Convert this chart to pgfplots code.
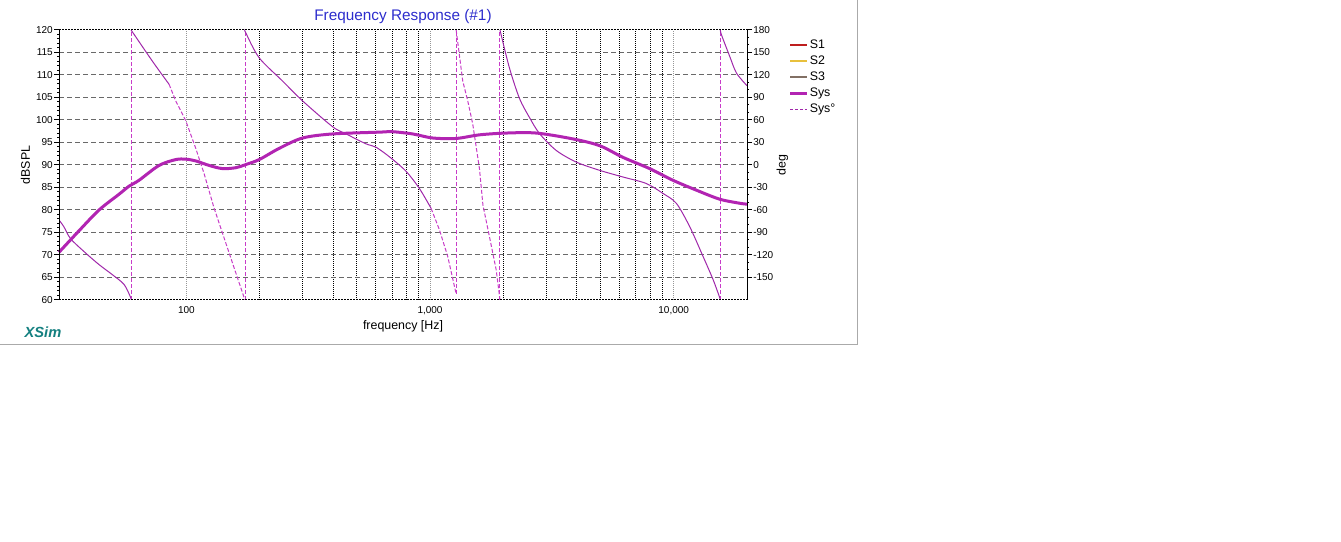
\documentclass[border=0pt]{standalone}
\usepackage{fontspec}
\setmainfont{Liberation Sans}
\usepackage{pgfplots}
\pgfplotsset{compat=1.18}

\definecolor{sysmag}{RGB}{178,36,178}
\definecolor{sysph}{RGB}{160,40,170}
\definecolor{syswrap}{RGB}{200,60,200}
\definecolor{sone}{RGB}{190,30,30}
\definecolor{stwo}{RGB}{232,192,60}
\definecolor{sthree}{RGB}{130,112,100}
\definecolor{titleblue}{RGB}{45,45,205}
\definecolor{xsimteal}{RGB}{20,128,128}
\definecolor{gridgray}{RGB}{105,105,105}
\definecolor{decgray}{RGB}{150,150,150}
\definecolor{framegray}{RGB}{170,170,170}

\begin{document}
\begin{tikzpicture}
\fill[white] (0,0) rectangle (1005.75pt,406.5pt);
\useasboundingbox (0,0) rectangle (1005.75pt,406.5pt);
\draw[framegray, line width=0.75pt] (0,147.75pt) -- (643.1pt,147.75pt) -- (643.1pt,406.5pt);

% grid and x labels
\begin{axis}[
  scale only axis, width=516pt, height=202.5pt,
  at={(44.25pt,181.5pt)}, anchor=south west,
  xmode=log, xmin=30, xmax=20000,
  ymin=60, ymax=120, ytick={65,70,...,115}, yticklabels={},
  axis line style={draw=none},
  major tick length=0pt, minor tick length=0pt,
  xtick={100,1000,10000}, xticklabels={100,{1,000},{10,000}},
  minor xtick={200,300,400,500,600,700,800,900,2000,3000,4000,5000,6000,7000,8000,9000},
  xmajorgrids, xminorgrids, ymajorgrids,
  major x grid style={decgray, line width=0.75pt, dash pattern=on 0.75pt off 0.75pt},
  minor x grid style={black, line width=0.75pt, dash pattern=on 0.75pt off 0.75pt},
  major y grid style={gridgray, line width=0.75pt, dash pattern=on 3.75pt off 2.25pt},
  tick label style={font=\fontsize{7.5}{9}\selectfont},
  xticklabel style={anchor=north, inner sep=0pt, yshift=-4.5pt},
  xlabel={frequency [Hz]},
  xlabel style={font=\fontsize{9.3}{11}\selectfont, at={(axis description cs:0.5,0)}, anchor=center, yshift=-19.5pt},
  /pgf/number format/assume math mode=true,
]
\end{axis}

% phase (right axis)
\begin{axis}[
  scale only axis, width=516pt, height=202.5pt,
  at={(44.25pt,181.5pt)}, anchor=south west,
  xmode=log, xmin=30, xmax=20000,
  ymin=-180, ymax=180, ytick={-150,-120,...,180}, minor y tick num=2,
  axis line style={draw=none},
  tick align=outside, major tick length=3.75pt, minor tick length=1.5pt,
  tick style={black, line width=0.75pt},
  ytick pos=right, yticklabel pos=right,
  xtick=\empty,
  tick label style={font=\fontsize{7.5}{9}\selectfont},
  yticklabel style={anchor=west, inner sep=0.75pt},
  ylabel={deg},
  ylabel style={font=\fontsize{9.3}{11}\selectfont, at={(axis description cs:1.0516,0.5)}, anchor=center},
  /pgf/number format/assume math mode=true,
]
% segment A
\addplot[sysph, line width=0.75pt, smooth] coordinates {(30,-73.3) (31.4,-82.2) (33.5,-98.4) (38.6,-117.4) (43.8,-132.8) (49.6,-146.1) (55.5,-159.3) (59.1,-176.9) (59.3,-180)};
\addplot[syswrap, line width=0.75pt, dash pattern=on 3pt off 1.5pt] coordinates {(59.3,-180) (59.3,180)};
% segment B
\addplot[sysph, line width=0.75pt, smooth] coordinates {(59.3,180) (72.5,138.5) (84.9,107.6)};
\addplot[syswrap, line width=0.75pt, dash pattern=on 3pt off 1.5pt] coordinates {(84.9,107.6) (90.4,85.5) (99.4,59.1) (109.3,22) (118.2,-11.5) (130,-57.8) (149.8,-117.4) (172.6,-176.9) (174,-180)};
\addplot[syswrap, line width=0.75pt, dash pattern=on 3pt off 1.5pt] coordinates {(174,-180) (174,180)};
% segment C
\addplot[sysph, line width=0.75pt, smooth] coordinates {(174,180) (175.4,176) (199,142.9) (248,112) (299.8,85.5) (398,51.1) (451.9,41.5) (546,28.2) (600.3,23.7) (690,9.5) (797.2,-8.4) (904.3,-31.3) (1010,-57.8)};
\addplot[syswrap, line width=0.75pt, dash pattern=on 3pt off 1.5pt] coordinates {(1010,-57.8) (1093,-86.5) (1182,-121.9) (1259,-161.6) (1280,-172)};
\addplot[syswrap, line width=0.75pt, dash pattern=on 3pt off 1.5pt] coordinates {(1280,-172) (1280,180)};
% segment D
\addplot[syswrap, line width=0.75pt, dash pattern=on 3pt off 1.5pt] coordinates {(1280,180) (1362,112) (1428,85.5) (1497,54.7) (1595,-4.6) (1649,-53.6) (1753,-95.4) (1868,-139.5) (1918,-168.6) (1937,-180)};
\addplot[syswrap, line width=0.75pt, dash pattern=on 3pt off 1.5pt] coordinates {(1937,-180) (1937,180)};
% segment E
\addplot[sysph, line width=0.75pt, smooth] coordinates {(1937,180) (2117,129.6) (2328,88.9) (2559,63.4) (2814,41.9) (3296,19.4) (3983,3.9) (4965,-7.1) (6191,-16) (7722,-24.7) (9036,-37.9) (10260,-51.2) (11634,-82.2) (13199,-121.9) (14508,-152.7) (15453,-176.9) (15560,-180)};
\addplot[syswrap, line width=0.75pt, dash pattern=on 3pt off 1.5pt] coordinates {(15560,-180) (15560,180)};
% segment F
\addplot[sysph, line width=0.75pt, smooth] coordinates {(15560,180) (15700,173.8) (16990,144.7) (18100,122.6) (20000,105.7)};
\end{axis}

% magnitude (left axis)
\begin{axis}[
  scale only axis, width=516pt, height=202.5pt,
  at={(44.25pt,181.5pt)}, anchor=south west,
  xmode=log, xmin=30, xmax=20000,
  ymin=60, ymax=120, ytick={60,65,...,120}, minor y tick num=4,
  axis line style={draw=none},
  tick align=outside, major tick length=3.75pt, minor tick length=1.5pt,
  tick style={black, line width=0.75pt},
  ytick pos=left, xtick=\empty,
  tick label style={font=\fontsize{7.5}{9}\selectfont},
  yticklabel style={anchor=east, inner sep=0.75pt},
  ylabel={dBSPL},
  ylabel style={font=\fontsize{9.3}{11}\selectfont, at={(axis description cs:-0.0487,0.5)}, anchor=center},
  title={Frequency Response (\#1)},
  title style={font=\fontsize{11.5}{13.5}\selectfont, text=titleblue, at={(axis description cs:0.5,1)}, anchor=center, yshift=3.75pt},
  clip=false,
  legend style={at={(axis description cs:1.0606,0.968)}, anchor=north west, draw=none, fill=none,
    inner sep=0pt, row sep=2.3pt, font=\fontsize{9.3}{11}\selectfont,
    nodes={inner sep=0.6pt, text height=6.7pt, text depth=1.8pt}},
  legend cell align=left,
  legend image code/.code={\draw[#1] (0pt,0pt) -- (12.75pt,0pt);},
  /pgf/number format/assume math mode=true,
]
\addlegendimage{sone, line width=1.5pt}\addlegendentry{S1}
\addlegendimage{stwo, line width=1.5pt}\addlegendentry{S2}
\addlegendimage{sthree, line width=1.5pt}\addlegendentry{S3}
\addplot[sysmag, line width=2.25pt, smooth] coordinates {
(30,70.6) (36.2,75.35) (43.8,80.0) (52.9,83.5) (58.2,85.3) (63.9,86.6) (77.2,89.9) (90.4,91.2) (99.4,91.3) (109.3,90.9) (124,89.9) (140.6,89.2) (159.6,89.4) (175.4,90.1) (199,91.2) (240.4,93.7) (299.8,96.0) (398,96.9) (619,97.3) (700,97.4) (849,96.9) (1025,96.0) (1280,95.9) (1595,96.7) (2054,97.1) (2728,97.1) (3857,95.8) (4965,94.3) (6191,91.7) (7968,89.2) (9934,86.6) (12400,84.4) (15450,82.4) (18670,81.5) (20000,81.3)};
\addlegendentry{Sys}
\addlegendimage{sysph, line width=0.75pt, dash pattern=on 2.25pt off 1.5pt}\addlegendentry{Sys°}
\draw[black, line width=0.75pt] (rel axis cs:0,0) -- (rel axis cs:0,1);
\draw[black, line width=0.75pt] (rel axis cs:1,0) -- (rel axis cs:1,1);
\draw[black, line width=0.75pt, dash pattern=on 1.5pt off 0.75pt] (rel axis cs:0,1) -- (rel axis cs:1,1);
\draw[black, line width=0.75pt, dash pattern=on 1.5pt off 0.75pt] (rel axis cs:0,0) -- (rel axis cs:1,0);
\end{axis}

\node[font=\fontsize{11}{13}\selectfont\bfseries\itshape, text=xsimteal] at (32.25pt,157.5pt) {XSim};
\end{tikzpicture}
\end{document}
